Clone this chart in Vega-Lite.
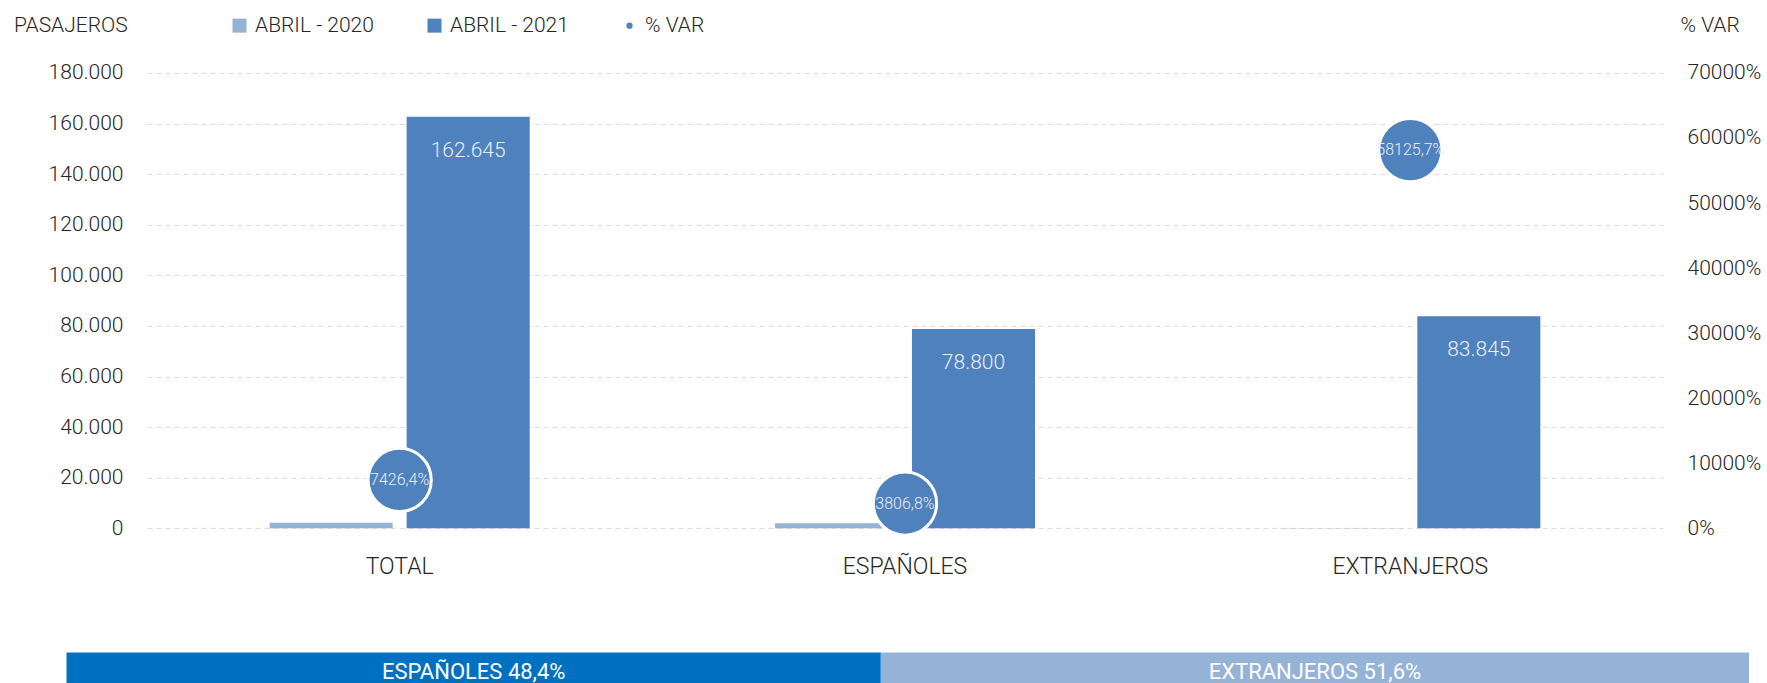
{
  "$schema": "https://vega.github.io/schema/vega-lite/v6.json",
  "width": 1516,
  "height": 455.4,
  "autosize": {"type": "none"},
  "padding": {"left": 147, "top": 72.9, "right": 104, "bottom": 154.7},
  "background": "white",
  "config": {
    "font": "Roboto",
    "locale": {"number": {"decimal": ",", "thousands": ".", "grouping": [3], "currency": ["", " €"]}},
    "view": {"stroke": null},
    "axis": {"labelFont": "Roboto", "labelColor": "#262626", "titleColor": "#262626", "titleFont": "Roboto", "titleFontWeight": 300, "labelFontWeight": 300, "domain": false, "ticks": false}
  },
  "datasets": {
    "pasajeros": [
      {"tipo": "TOTAL", "periodo": "ABRIL - 2020", "pasajeros": 2161},
      {"tipo": "TOTAL", "periodo": "ABRIL - 2021", "pasajeros": 162645},
      {"tipo": "ESPAÑOLES", "periodo": "ABRIL - 2020", "pasajeros": 2017},
      {"tipo": "ESPAÑOLES", "periodo": "ABRIL - 2021", "pasajeros": 78800},
      {"tipo": "EXTRANJEROS", "periodo": "ABRIL - 2020", "pasajeros": 144},
      {"tipo": "EXTRANJEROS", "periodo": "ABRIL - 2021", "pasajeros": 83845}
    ],
    "variacion": [
      {"tipo": "TOTAL", "var": 74.264},
      {"tipo": "ESPAÑOLES", "var": 38.068},
      {"tipo": "EXTRANJEROS", "var": 581.257}
    ],
    "cuota": [
      {"grupo": "ESPAÑOLES", "cuota": 48.4, "etiqueta": "ESPAÑOLES 48,4%"},
      {"grupo": "EXTRANJEROS", "cuota": 51.6, "etiqueta": "EXTRANJEROS 51,6%"}
    ]
  },
  "resolve": {"scale": {"x": "independent", "y": "independent"}},
  "layer": [
    {
      "data": {"name": "pasajeros"},
      "encoding": {
        "x": {
          "field": "tipo", "type": "nominal", "sort": ["TOTAL", "ESPAÑOLES", "EXTRANJEROS"],
          "scale": {"paddingInner": 0, "paddingOuter": 0},
          "axis": {"title": null, "labelAngle": 0, "labelFontSize": 23, "labelPadding": 27, "grid": false}
        },
        "xOffset": {"field": "periodo", "type": "nominal", "scale": {"paddingInner": 0.102, "paddingOuter": 0.895}},
        "y": {
          "field": "pasajeros", "type": "quantitative",
          "scale": {"domain": [0, 180000], "nice": false},
          "axis": {
            "values": [0, 20000, 40000, 60000, 80000, 100000, 120000, 140000, 160000, 180000],
            "format": ",.0f", "labelFontSize": 21, "labelPadding": 24,
            "grid": true, "gridColor": "#D9D9D9", "gridDash": [5, 4],
            "title": "PASAJEROS", "titleAngle": 0, "titleAlign": "left", "titleBaseline": "middle",
            "titleX": -133.5, "titleY": -47, "titleFontSize": 21
          }
        }
      },
      "layer": [
        {
          "mark": {"type": "bar"},
          "encoding": {
            "color": {
              "field": "periodo", "type": "nominal",
              "scale": {"domain": ["ABRIL - 2020", "ABRIL - 2021", "% VAR"], "range": ["#95B3D7", "#4F81BD", "#4F81BD"]},
              "legend": {
                "orient": "none", "legendX": 82, "legendY": -58, "direction": "horizontal", "columns": 3,
                "title": null, "labelFontSize": 21, "labelFont": "Roboto", "labelFontWeight": 300, "labelColor": "#262626",
                "symbolSize": 196, "symbolType": "square", "labelOffset": 5, "columnPadding": 50, "padding": 0,
                "encode": {
                  "symbols": {
                    "update": {
                      "shape": {"signal": "datum.value === '% VAR' ? 'circle' : 'square'"},
                      "size": {"signal": "datum.value === '% VAR' ? 40 : 196"},
                      "strokeWidth": {"value": 0}
                    }
                  }
                }
              }
            }
          }
        },
        {
          "transform": [{"filter": "datum.periodo === 'ABRIL - 2021'"}],
          "mark": {"type": "text", "dy": 34, "baseline": "middle", "align": "center", "fontSize": 21, "fontWeight": 300, "color": "#E9EEF6"},
          "encoding": {"text": {"field": "pasajeros", "type": "quantitative", "format": ",.0f"}}
        }
      ]
    },
    {
      "data": {"name": "variacion"},
      "encoding": {
        "x": {
          "field": "tipo", "type": "nominal", "sort": ["TOTAL", "ESPAÑOLES", "EXTRANJEROS"],
          "scale": {"paddingInner": 0, "paddingOuter": 0}, "axis": null
        },
        "y": {
          "field": "var", "type": "quantitative",
          "scale": {"domain": [0, 700], "nice": false},
          "axis": {
            "orient": "right", "values": [0, 100, 200, 300, 400, 500, 600, 700],
            "format": ".0%", "labelFontSize": 21, "labelPadding": 24, "grid": false,
            "title": "% VAR", "titleAngle": 0, "titleAlign": "left", "titleBaseline": "middle",
            "titleX": 17, "titleY": -47, "titleFontSize": 21
          }
        }
      },
      "layer": [
        {
          "mark": {"type": "circle", "size": 4000, "opacity": 1, "stroke": "white", "strokeWidth": 3},
          "encoding": {
            "color": {
              "datum": "% VAR", "type": "nominal",
              "scale": {"domain": ["ABRIL - 2020", "ABRIL - 2021", "% VAR"], "range": ["#95B3D7", "#4F81BD", "#4F81BD"]}
            }
          }
        },
        {
          "mark": {"type": "text", "baseline": "middle", "align": "center", "fontSize": 16, "fontWeight": 300, "color": "#E9EEF6"},
          "encoding": {"text": {"field": "var", "type": "quantitative", "format": ".1%"}}
        }
      ]
    },
    {
      "data": {"name": "cuota"},
      "transform": [
        {"stack": "cuota", "groupby": [], "sort": [{"field": "grupo", "order": "ascending"}], "as": ["x0", "x1"]},
        {"calculate": "(datum.x0 + datum.x1) / 2", "as": "xm"}
      ],
      "layer": [
        {
          "mark": {"type": "bar"},
          "encoding": {
            "x": {"field": "x0", "type": "quantitative", "scale": {"domain": [4.785, 94.889], "nice": false, "zero": false}, "axis": null},
            "x2": {"field": "x1"},
            "y": {"datum": 0, "type": "quantitative", "scale": {"domain": [4.834, 18.89], "nice": false, "zero": false}, "axis": null},
            "y2": {"datum": 1},
            "fill": {"field": "grupo", "type": "nominal", "scale": {"domain": ["ESPAÑOLES", "EXTRANJEROS"], "range": ["#0070C0", "#95B3D7"]}, "legend": null}
          }
        },
        {
          "mark": {"type": "text", "baseline": "middle", "align": "center", "fontSize": 22, "color": "white"},
          "encoding": {
            "x": {"field": "xm", "type": "quantitative"},
            "y": {"datum": 0.4, "type": "quantitative"},
            "text": {"field": "etiqueta", "type": "nominal"}
          }
        }
      ]
    }
  ]
}
